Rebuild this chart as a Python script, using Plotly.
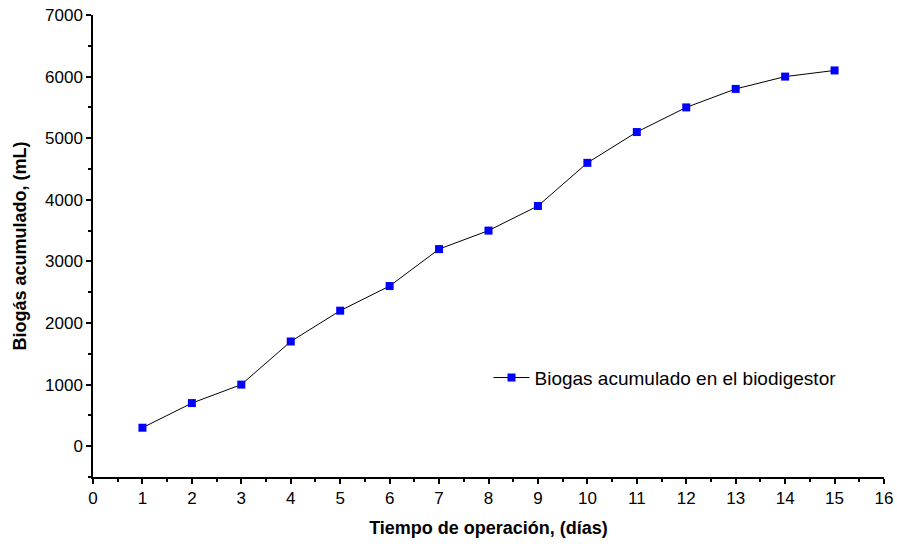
import plotly.graph_objects as go

dias = [1, 2, 3, 4, 5, 6, 7, 8, 9, 10, 11, 12, 13, 14, 15]
biogas_ml = [300, 700, 1000, 1700, 2200, 2600, 3200, 3500, 3900, 4600, 5100, 5500, 5800, 6000, 6100]
serie = "Biogas acumulado en el biodigestor"

FONT = "Liberation Sans, Arial, sans-serif"

fig = go.Figure()
fig.add_trace(go.Scatter(
    x=dias, y=biogas_ml, mode="lines+markers", name=serie,
    line=dict(color="black", width=1),
    marker=dict(symbol="square", size=8, color="#0000ff", line=dict(width=0)),
))

axis_common = dict(
    showline=True, linecolor="black", linewidth=1.5, mirror=False,
    ticks="outside", ticklen=5, tickwidth=1.5, tickcolor="black",
    showgrid=False, zeroline=False, automargin=False,
    tickfont=dict(family=FONT, size=17, color="black"),
)

fig.update_xaxes(
    range=[0, 16], dtick=1, tick0=0,
    minor=dict(ticks="outside", ticklen=3, dtick=0.5, tick0=0, tickcolor="black", tickwidth=1.5),
    title=dict(text="<b>Tiempo de operación, (días)</b>", standoff=14,
               font=dict(family=FONT, size=18, color="black")),
    **axis_common,
)
fig.update_yaxes(
    range=[-500, 7000], dtick=1000, tick0=0,
    minor=dict(ticks="outside", ticklen=3, dtick=500, tick0=0, tickcolor="black", tickwidth=1.5),
    title=dict(text="<b>Biogás acumulado, (mL)</b>", standoff=14,
               font=dict(family=FONT, size=18, color="black")),
    **axis_common,
)

fig.update_layout(
    width=897, height=544,
    margin=dict(l=93, r=13, t=15, b=67),
    plot_bgcolor="white", paper_bgcolor="white",
    showlegend=True,
    legend=dict(x=0.5, y=0.215, xanchor="left", yanchor="middle",
                itemwidth=36, bgcolor="rgba(0,0,0,0)",
                font=dict(family=FONT, size=19, color="black")),
)

fig.write_html("out.html")
